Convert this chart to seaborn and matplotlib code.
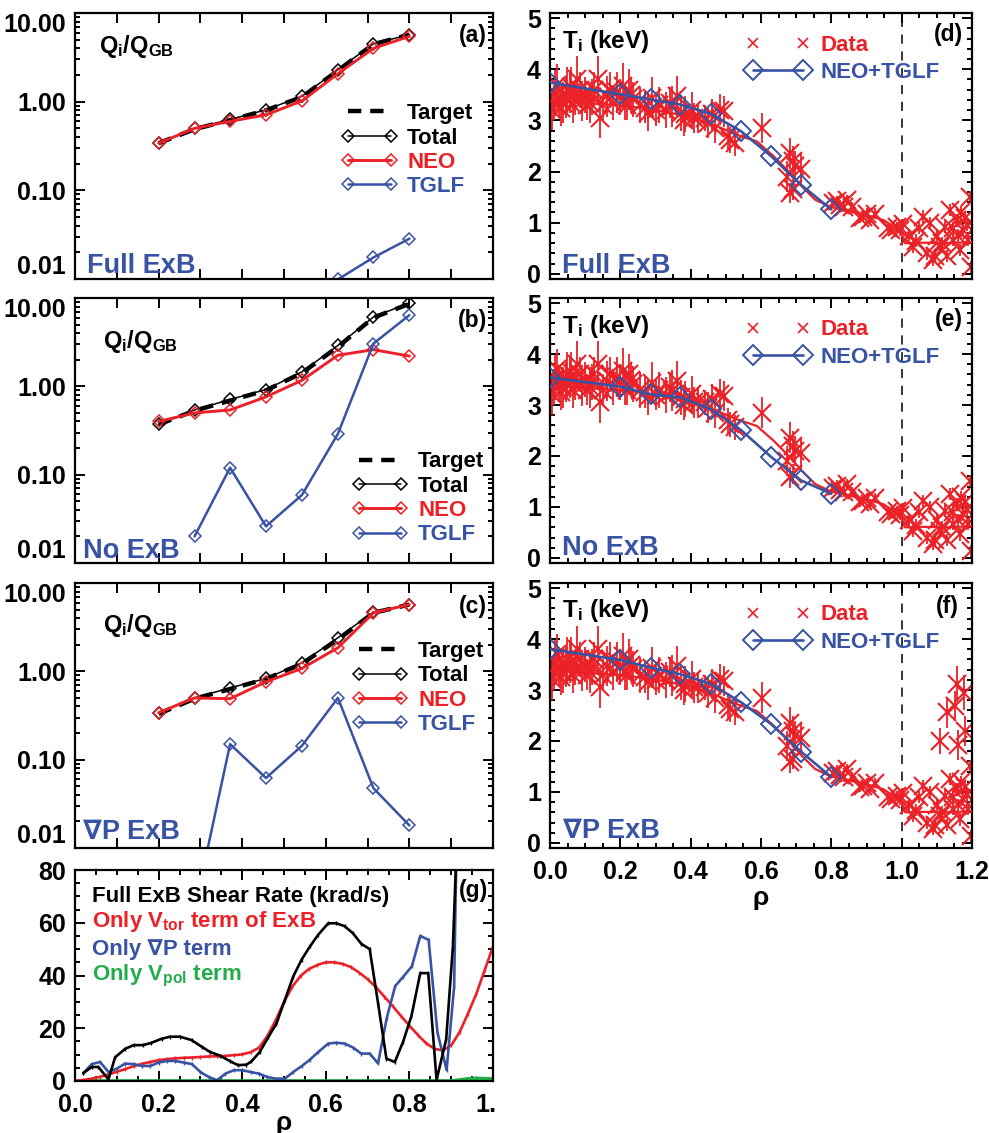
import numpy as np
import pandas as pd
import matplotlib
matplotlib.use("Agg")
import matplotlib.pyplot as plt
import seaborn as sns
from matplotlib.ticker import (MultipleLocator, FixedLocator, FuncFormatter,
                               LogLocator, NullFormatter, FormatStrFormatter)
from matplotlib.lines import Line2D
from matplotlib.transforms import Bbox, TransformedBbox

# ---------------------------------------------------------------- data
# radial grid of the flux-matching points
rho_q = [0.2, 0.286, 0.371, 0.457, 0.543, 0.629, 0.714, 0.8]

# (a) full ExB
target_a = [0.34, 0.49, 0.62, 0.80, 1.13, 2.25, 4.45, 5.7]
total_a = [0.34, 0.50, 0.63, 0.81, 1.15, 2.30, 4.50, 5.7]
neo_a = [0.34, 0.50, 0.60, 0.71, 1.02, 2.07, 4.00, 5.45]
tglf_a = [np.nan, np.nan, np.nan, np.nan, np.nan, 0.0099, 0.0175, 0.0285]

# (b) no ExB
target_b = [0.37, 0.53, 0.69, 0.90, 1.42, 2.8, 6.0, 8.6]
total_b = [0.37, 0.54, 0.71, 0.92, 1.46, 2.9, 6.1, 8.8]
neo_b = [0.40, 0.50, 0.54, 0.76, 1.17, 2.25, 2.6, 2.2]
tglf_b = [np.nan, 0.020, 0.12, 0.026, 0.059, 0.29, 3.05, 6.4]

# (c) grad-P ExB only
target_c = [0.33, 0.49, 0.63, 0.82, 1.22, 2.3, 4.6, 5.7]
total_c = [0.34, 0.50, 0.65, 0.83, 1.25, 2.4, 4.7, 5.7]
neo_c = [0.34, 0.50, 0.49, 0.76, 1.08, 1.85, 4.6, 5.7]
tglf_c = [np.nan, 0.002, 0.15, 0.062, 0.144, 0.50, 0.0475, 0.018]

# predicted Ti profiles (NEO+TGLF)
rho_t = [0.0, 0.2, 0.286, 0.371, 0.457, 0.543, 0.629, 0.714, 0.8]
ti_pred_d = [3.74, 3.51, 3.41, 3.31, 3.13, 2.79, 2.30, 1.74, 1.26]
ti_pred_e = [3.54, 3.36, 3.21, 3.15, 2.92, 2.51, 1.98, 1.52, 1.26]
ti_pred_f = [3.80, 3.59, 3.44, 3.31, 3.12, 2.76, 2.33, 1.79, 1.29]

# measured Ti (keV) with uncertainties
rho_data = [0.005, 0.014, 0.025, 0.038, 0.048, 0.057, 0.066, 0.076, 0.090,
            0.100, 0.114, 0.125, 0.137, 0.142, 0.161, 0.180, 0.190, 0.208,
            0.213, 0.225, 0.237, 0.255, 0.280, 0.289, 0.310, 0.330, 0.346,
            0.360, 0.372, 0.384, 0.403, 0.420, 0.450, 0.460, 0.483, 0.495,
            0.512, 0.527, 0.602, 0.675, 0.682, 0.682, 0.690, 0.698, 0.806,
            0.825, 0.844, 0.860, 0.881, 0.900, 0.924, 0.971, 0.986, 1.005,
            1.020, 1.033, 1.050, 1.062, 1.071, 1.090, 1.100, 1.109, 1.123,
            1.137, 1.147, 1.156, 1.166, 1.175, 1.180, 1.190, 1.194, 1.198,
            0.000, 0.010, 0.020, 0.030, 0.045, 0.060, 0.070, 0.085, 0.105,
            0.120, 0.150, 0.170, 0.200, 0.220, 0.230, 0.270, 0.300, 0.340,
            0.380, 0.410, 0.440, 0.470, 0.505, 0.690, 0.715, 0.815, 0.835,
            0.890, 0.910, 0.960, 0.995, 1.040, 1.080, 1.095, 1.115, 1.130,
            1.145, 1.160, 1.170, 1.185, 1.200]
ti_data = [3.21, 3.54, 3.40, 3.35, 3.60, 3.54, 3.30, 3.80, 3.38,
           3.50, 3.35, 3.60, 3.80, 3.05, 3.47, 3.35, 3.55, 3.67,
           3.35, 3.60, 3.41, 3.30, 3.15, 3.44, 3.30, 3.20, 3.28,
           3.47, 3.15, 3.12, 3.21, 3.05, 2.95, 3.12, 3.21, 3.18,
           2.62, 2.56, 2.85, 1.90, 2.36, 1.58, 1.65, 2.10, 1.38,
           1.34, 1.45, 1.30, 1.09, 1.18, 1.18, 0.86, 0.92, 0.98,
           0.75, 0.53, 0.90, 1.12, 0.40, 0.27, 0.75, 0.53, 0.92,
           1.25, 0.66, 1.05, 0.46, 0.86, 1.10, 0.66, 1.51, 0.14,
           3.55, 3.35, 3.70, 3.25, 3.45, 3.65, 3.40, 3.60, 3.30,
           3.45, 3.30, 3.60, 3.45, 3.30, 3.50, 3.25, 3.20, 3.35,
           3.00, 3.05, 3.05, 2.85, 2.70, 2.20, 2.05, 1.42, 1.30,
           1.12, 1.05, 0.90, 0.85, 0.65, 1.00, 0.35, 0.60, 0.35,
           0.90, 0.75, 1.20, 0.95, 0.85]
ti_err = [0.40, 0.45, 0.35, 0.40, 0.45, 0.40, 0.35, 0.45, 0.40,
          0.35, 0.40, 0.35, 0.45, 0.40, 0.40, 0.35, 0.40, 0.45,
          0.35, 0.40, 0.35, 0.35, 0.35, 0.40, 0.35, 0.35, 0.40,
          0.40, 0.35, 0.35, 0.35, 0.30, 0.30, 0.30, 0.30, 0.30,
          0.25, 0.25, 0.30, 0.30, 0.30, 0.20, 0.20, 0.30, 0.10,
          0.10, 0.10, 0.10, 0.10, 0.10, 0.10, 0.10, 0.10, 0.10,
          0.12, 0.12, 0.12, 0.12, 0.12, 0.12, 0.12, 0.12, 0.12,
          0.12, 0.12, 0.12, 0.12, 0.12, 0.12, 0.12, 0.12, 0.12,
          0.40, 0.35, 0.40, 0.35, 0.40, 0.40, 0.30, 0.35, 0.30,
          0.35, 0.30, 0.35, 0.35, 0.30, 0.35, 0.30, 0.30, 0.30,
          0.30, 0.30, 0.25, 0.30, 0.25, 0.30, 0.30, 0.10, 0.10,
          0.10, 0.10, 0.10, 0.10, 0.12, 0.12, 0.12, 0.12, 0.12,
          0.12, 0.12, 0.12, 0.12, 0.12]
# additional edge points present in the grad-P case
rho_extra = [1.109, 1.128, 1.152, 1.156, 1.161, 1.177, 1.180]
ti_extra = [2.00, 2.56, 2.69, 3.12, 1.92, 2.95, 2.20]
err_extra = [0.25, 0.30, 0.30, 0.35, 0.30, 0.35, 0.30]

# smooth fit to the measured Ti
rho_fit = [0.0, 0.209, 0.304, 0.398, 0.474, 0.531, 0.588, 0.636, 0.683,
           0.716, 0.754, 0.797, 0.854, 0.901, 0.949, 0.977, 1.0, 1.01,
           1.06, 1.12, 1.2]
ti_fit = [3.38, 3.29, 3.20, 3.07, 2.89, 2.72, 2.59, 2.30, 1.97,
          1.71, 1.45, 1.31, 1.22, 1.15, 1.05, 0.92, 0.79, 0.60,
          0.61, 0.60, 0.62]

# (g) ExB shear rate contributions (krad/s)
rho_full = [0.02, 0.04, 0.056, 0.08, 0.096, 0.12, 0.14, 0.163, 0.183, 0.207,
            0.227, 0.251, 0.279, 0.303, 0.323, 0.347, 0.371, 0.39, 0.41,
            0.422, 0.442, 0.462, 0.482, 0.502, 0.522, 0.542, 0.562, 0.582,
            0.606, 0.625, 0.645, 0.665, 0.685, 0.705, 0.725, 0.745, 0.765,
            0.785, 0.805, 0.826, 0.845, 0.865, 0.888, 0.904, 0.925]
shear_full = [3.0, 5.3, 5.3, 0.6, 9.0, 12.2, 13.6, 13.6, 14.5, 16.0,
              16.8, 16.8, 15.5, 13.0, 11.0, 9.6, 7.5, 6.0, 6.2,
              7.4, 11.0, 16.5, 21.8, 30.7, 39.6, 46.0, 51.0, 55.5,
              59.8, 59.8, 58.7, 56.0, 52.0, 50.0, 29.5, 8.5, 7.2,
              14.9, 24.7, 40.9, 40.9, 0.4, 15.8, 50.8, 140.0]

rho_gradp = [0.02, 0.04, 0.06, 0.08, 0.10, 0.12, 0.14, 0.16, 0.18, 0.20,
             0.22, 0.24, 0.26, 0.28, 0.30, 0.32, 0.34, 0.36, 0.38, 0.40,
             0.42, 0.44, 0.46, 0.48, 0.502, 0.522, 0.542, 0.562, 0.582,
             0.606, 0.625, 0.645, 0.665, 0.685, 0.705, 0.725, 0.746, 0.766,
             0.785, 0.806, 0.826, 0.846, 0.867, 0.889, 0.907, 0.918]
shear_gradp = [3.0, 6.4, 7.2, 3.4, 4.7, 6.6, 6.4, 5.7, 5.7, 7.0,
               7.6, 7.6, 7.0, 6.4, 3.4, 1.5, 0.3, 2.8, 4.1, 4.1,
               3.4, 2.8, 1.5, 0.9, 0.9, 3.4, 5.6, 8.1, 11.0,
               14.2, 14.5, 14.2, 12.7, 10.4, 10.4, 6.7, 24.0, 36.0,
               39.5, 43.5, 55.0, 53.5, 18.5, 4.2, 35.7, 140.0]

rho_vtor = [0.0, 0.02, 0.04, 0.06, 0.08, 0.10, 0.12, 0.14, 0.16, 0.18,
            0.20, 0.22, 0.24, 0.26, 0.28, 0.30, 0.32, 0.34, 0.36, 0.38,
            0.40, 0.42, 0.44, 0.46, 0.48, 0.50, 0.52, 0.54, 0.56, 0.58,
            0.60, 0.62, 0.64, 0.66, 0.68, 0.70, 0.72, 0.74, 0.76, 0.78,
            0.80, 0.82, 0.84, 0.86, 0.88, 0.90, 0.92, 0.94, 0.96, 0.98, 1.0]
shear_vtor = [0.0, 0.4, 0.9, 1.6, 2.5, 3.5, 4.5, 5.6, 6.5, 7.2,
              7.9, 8.3, 8.6, 8.8, 8.9, 9.1, 9.3, 9.4, 9.5, 9.8,
              10.1, 10.9, 12.6, 17.0, 23.0, 30.0, 35.8, 39.9, 42.5, 44.0,
              45.0, 45.0, 44.4, 43.2, 41.1, 38.6, 35.6, 32.0, 28.4, 24.6,
              21.0, 17.5, 14.3, 12.2, 11.6, 13.5, 18.5, 25.5, 33.0, 42.0, 51.0]
shear_vpol = [0.0] * 46 + [0.4, 0.8, 1.0, 0.9, 0.8]

# ---------------------------------------------------------------- style
RED = "#ec2127"
BLUE = "#3953a4"
GREEN = "#22ad4a"

sns.set_theme(style="ticks")
FAM = ["Liberation Sans", "DejaVu Sans"]
plt.rcParams["font.family"] = FAM
plt.rcParams["font.weight"] = "bold"
plt.rcParams["mathtext.default"] = "regular"
plt.rcParams["axes.linewidth"] = 1.6
plt.rcParams["axes.edgecolor"] = "black"

fig = plt.figure(figsize=(9.89, 11.33), dpi=100)

W, H = 989.0, 1133.0


def add_axes(x0, y0, x1, y1):
    return fig.add_axes([x0 / W, 1 - y1 / H, (x1 - x0) / W, (y1 - y0) / H])


def style(ax):
    ax.tick_params(which="both", direction="in", top=True, right=True,
                   labelsize=18, width=1.4, pad=6.5, colors="black")
    ax.tick_params(axis="x", which="both", pad=8.5)
    ax.tick_params(which="major", length=7)
    ax.tick_params(which="minor", length=3.5)
    for sp in ax.spines.values():
        sp.set_visible(True)
        sp.set_linewidth(1.6)
        sp.set_color("black")
    ax.set_facecolor("white")


rows = [(13, 279), (298, 563), (583, 848)]
LX0, LX1 = 75, 493
RX0, RX1 = 550, 972

flux_sets = [
    ("(a)", "Full ExB", target_a, total_a, neo_a, tglf_a, (0.638, 0.661), 0.0214),
    ("(b)", "No ExB", target_b, total_b, neo_b, tglf_b, (0.664, 0.421), 0.0177),
    ("(c)", "\u2207P ExB", target_c, total_c, neo_c, tglf_c, (0.664, 0.781), 0.033),
]
q_baseline = [0.848, 0.810, 0.816]
q_x = [0.057, 0.067, 0.067]
tag_base = [0.892, 0.892, 0.886]
case_x = [0.029, 0.019, 0.019]
log_axes = []

for i, (tag, case, tgt, tot, neo, tglf, lpos, cy) in enumerate(flux_sets):
    y0, y1 = rows[i]
    ax = add_axes(LX0, y0, LX1, y1)
    log_axes.append(ax)
    style(ax)
    ax.set_yscale("log")
    sns.lineplot(x=rho_q, y=tgt, ax=ax, color="black", lw=3.2,
                 linestyle=(0, (3, 2)), estimator=None, sort=False, legend=False)
    sns.lineplot(x=rho_q, y=tot, ax=ax, color="black", lw=1.1, marker="D",
                 ms=6.5, mfc="none", mec="black", mew=1.1,
                 estimator=None, sort=False, legend=False)
    sns.lineplot(x=rho_q, y=neo, ax=ax, color=RED, lw=2.1, marker="D",
                 ms=6.5, mfc="none", mec=RED, mew=1.1,
                 estimator=None, sort=False, legend=False)
    sns.lineplot(x=rho_q, y=tglf, ax=ax, color=BLUE, lw=1.8, marker="D",
                 ms=6.5, mfc="none", mec=BLUE, mew=1.1,
                 estimator=None, sort=False, legend=False)
    ax.set_xlim(0, 1.0)
    ax.set_ylim(0.01, 10)
    ax.yaxis.set_major_locator(FixedLocator([0.01, 0.1, 1.0, 10.0]))
    ax.yaxis.set_major_formatter(FuncFormatter(lambda v, p: f"{v:.2f}"))
    ax.yaxis.set_minor_locator(LogLocator(base=10, subs=np.arange(2, 10)))
    ax.yaxis.set_minor_formatter(NullFormatter())
    ax.xaxis.set_major_locator(MultipleLocator(0.1))
    ax.tick_params(axis="x", labelbottom=False)
    ax.set_xlabel("")
    ax.set_ylabel("")

    handles = [
        Line2D([], [], color="black", lw=3.2, linestyle=(0, (3, 2))),
        Line2D([], [], color="black", lw=1.1, marker="D", ms=6.5, mfc="none",
               mec="black", mew=1.1),
        Line2D([], [], color=RED, lw=2.1, marker="D", ms=6.5, mfc="none",
               mec=RED, mew=1.1),
        Line2D([], [], color=BLUE, lw=1.8, marker="D", ms=6.5, mfc="none",
               mec=BLUE, mew=1.1),
    ]
    leg = ax.legend(handles, ["Target", "Total", "NEO", "TGLF"],
                    loc="upper left", bbox_to_anchor=lpos, frameon=False,
                    fontsize=16, numpoints=2, handlelength=2.5,
                    handletextpad=0.45, labelspacing=0.15, borderpad=0,
                    borderaxespad=0)
    for t, c in zip(leg.get_texts(), ["black", "black", RED, BLUE]):
        t.set_color(c)

    ax.text(q_x[i], q_baseline[i], "Q$_{i}$/Q$_{GB}$", transform=ax.transAxes,
            fontsize=17, va="baseline", ha="left", color="black")
    ax.text(0.986, tag_base[i], tag, transform=ax.transAxes, fontsize=16.5,
            va="baseline", ha="right", color="black")
    ax.text(case_x[i], cy, case, transform=ax.transAxes, fontsize=19.5,
            va="baseline", ha="left", color=BLUE)

# ---------------------------------------------------------------- Ti panels
ti_sets = [
    ("(d)", "Full ExB", ti_pred_d, False, 0.867, 0.894, 0.024, 0.978),
    ("(e)", "No ExB", ti_pred_e, False, 0.867, 0.894, 0.031, 0.978),
    ("(f)", "\u2207P ExB", ti_pred_f, True, 0.873, 0.888, 0.037, 0.968),
]
for i, (tag, case, pred, extra, tb, gb, cb, gx) in enumerate(ti_sets):
    y0, y1 = rows[i]
    ax = add_axes(RX0, y0, RX1, y1)
    style(ax)
    ax.axvline(1.0, color="black", lw=1.1, linestyle=(0, (6, 5)), zorder=1)
    rr = list(rho_data) + (rho_extra if extra else [])
    tt = list(ti_data) + (ti_extra if extra else [])
    ee = list(ti_err) + (err_extra if extra else [])
    ax.errorbar(rr, tt, yerr=ee, fmt="x", color=RED, ms=13, mew=1.5,
                elinewidth=1.3, capsize=0, zorder=2)
    sns.lineplot(x=rho_fit, y=ti_fit, ax=ax, color=RED, lw=1.6,
                 estimator=None, sort=False, legend=False, zorder=3)
    sns.lineplot(x=rho_t, y=pred, ax=ax, color=BLUE, lw=1.9, marker="D",
                 ms=10, mfc="none", mec=BLUE, mew=1.4,
                 estimator=None, sort=False, legend=False, zorder=4)
    ax.set_xlim(0, 1.2)
    ax.set_ylim(-0.1, 5.1)
    ax.yaxis.set_major_locator(MultipleLocator(1))
    ax.yaxis.set_minor_locator(MultipleLocator(0.2))
    ax.yaxis.set_major_formatter(FormatStrFormatter("%d"))
    ax.xaxis.set_major_locator(MultipleLocator(0.2))
    ax.xaxis.set_minor_locator(MultipleLocator(0.05))
    ax.xaxis.set_major_formatter(FormatStrFormatter("%.1f"))
    ax.set_xlabel("")
    ax.set_ylabel("")
    if i < 2:
        ax.tick_params(axis="x", labelbottom=False)
    else:
        ax.text(0.5, -0.19, "\u03c1", transform=ax.transAxes, fontsize=19,
                ha="center", va="center", color="black")

    handles = [
        Line2D([], [], color=RED, lw=0, marker="x", ms=7, mew=1.2),
        Line2D([], [], color=BLUE, lw=1.9, marker="D", ms=10, mfc="none",
               mec=BLUE, mew=1.4),
    ]
    leg = ax.legend(handles, ["Data", "NEO+TGLF"], loc="upper left",
                    bbox_to_anchor=(0.465, 0.919), frameon=False, fontsize=16,
                    numpoints=2, handlelength=2.86, handletextpad=0.46,
                    labelspacing=0.285, borderpad=0, borderaxespad=0)
    for t, c in zip(leg.get_texts(), [RED, BLUE]):
        t.set_color(c)

    ax.text(0.028, tb, "T$_{i}$ (keV)", transform=ax.transAxes, fontsize=17.5,
            va="baseline", ha="left", color="black")
    ax.text(gx, gb, tag, transform=ax.transAxes, fontsize=16.5,
            va="baseline", ha="right", color="black")
    ax.text(0.028 if i < 2 else 0.031, cb, case, transform=ax.transAxes,
            fontsize=19.5, va="baseline", ha="left", color=BLUE)

# ---------------------------------------------------------------- (g) shear
ax = add_axes(LX0, 870, LX1, 1081)
style(ax)
mk = dict(marker="|", ms=3.5, mew=1.0, estimator=None, sort=False, legend=False)
sns.lineplot(x=rho_vtor, y=shear_vpol, ax=ax, color=GREEN, lw=2.6,
             mec=GREEN, **mk)
sns.lineplot(x=rho_vtor, y=shear_vtor, ax=ax, color=RED, lw=1.9, mec=RED, **mk)
sns.lineplot(x=rho_gradp, y=shear_gradp, ax=ax, color=BLUE, lw=1.9,
             mec=BLUE, **mk)
sns.lineplot(x=rho_full, y=shear_full, ax=ax, color="black", lw=1.9,
             mec="black", **mk)
ax.set_xlim(0, 1.0)
ax.set_ylim(0, 80)
ax.yaxis.set_major_locator(MultipleLocator(20))
ax.yaxis.set_minor_locator(MultipleLocator(5))
ax.yaxis.set_major_formatter(FormatStrFormatter("%d"))
ax.xaxis.set_major_locator(MultipleLocator(0.2))
ax.xaxis.set_minor_locator(MultipleLocator(0.05))
ax.xaxis.set_major_formatter(FormatStrFormatter("%.1f"))
ax.set_xlabel("")
ax.set_ylabel("")
ax.text(0.5, -0.2, "\u03c1", transform=ax.transAxes, fontsize=19,
        ha="center", va="center", color="black")

ax.text(0.041, 0.850, "Full ExB Shear Rate (krad/s)", transform=ax.transAxes,
        fontsize=16, va="baseline", ha="left", color="black")
ax.text(0.041, 0.729, "Only V$_{tor}$ term of ExB", transform=ax.transAxes,
        fontsize=16, va="baseline", ha="left", color=RED)
ax.text(0.041, 0.597, "Only \u2207P term", transform=ax.transAxes,
        fontsize=16, va="baseline", ha="left", color=BLUE)
ax.text(0.041, 0.479, "Only V$_{pol}$ term", transform=ax.transAxes,
        fontsize=16, va="baseline", ha="left", color=GREEN)
ax.text(0.988, 0.874, "(g)", transform=ax.transAxes, fontsize=16.5,
        va="baseline", ha="right", color="black")

fig.canvas.draw()
# the lowest decade label sits just above its tick
for lax in log_axes:
    for lab in lax.get_yticklabels():
        if lab.get_text() == "0.01":
            lab.set_verticalalignment("bottom")
        elif lab.get_text() == "10.00":
            lab.set_verticalalignment("top")
# the shear panel's last tick label is cut at the column edge
clip = TransformedBbox(Bbox([[0, 0], [497 / W, 1]]), fig.transFigure)
for lab in ax.get_xticklabels():
    lab.set_clip_box(clip)
    lab.set_clip_on(True)

fig.savefig("out.png", dpi=100, facecolor="white")
